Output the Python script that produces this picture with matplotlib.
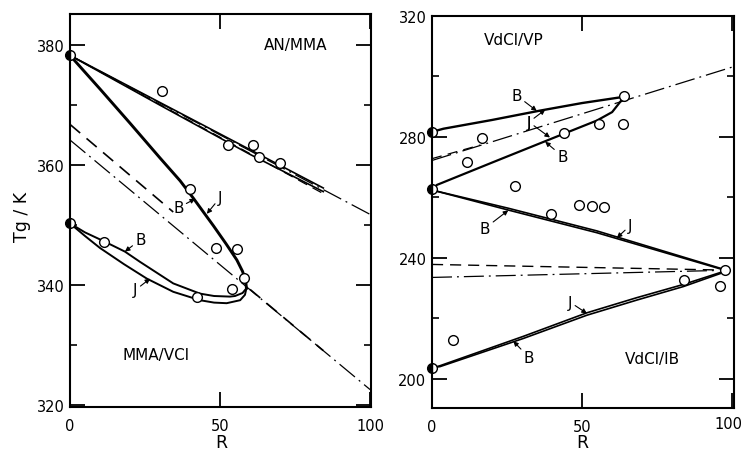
import matplotlib
matplotlib.use("Agg")
import matplotlib.pyplot as plt
import numpy as np

plt.rcParams['font.family'] = ['DejaVu Sans']

# ---------------- Left panel data ----------------
# AN/MMA
anmma_B_R = [0, 84.4]
anmma_B_Tg = [378.3, 356.2]
anmma_J_R = [0, 30, 60, 84.4]
anmma_J_Tg = [378.3, 370.0, 361.8, 355.6]
anmma_dash_R = [0, 85]
anmma_dash_Tg = [378.3, 355.1]
anmma_dd_R = [0, 100]
anmma_dd_Tg = [378.3, 351.8]
anmma_pts_R = [30.8, 52.8, 60.9, 63.1, 70.0]
anmma_pts_Tg = [372.3, 363.3, 363.3, 361.3, 360.3]

# MMA/VCl
mmavcl_steep_R = [0, 10, 20, 30, 36.7, 41.1, 47.8, 52, 55.6, 57.5, 58.5, 58.8]
mmavcl_steep_Tg = [378.3, 372.7, 367.0, 361.2, 357.4, 354.5, 349.9, 346.9, 344.2, 342.3, 340.8, 339.5]
mmavcl_B_R = [58.8, 57.5, 55, 53.3, 48, 43.3, 34.4, 23.3, 18.3, 11.4, 5, 0]
mmavcl_B_Tg = [339.5, 338.7, 338.2, 338.1, 338.2, 338.6, 340.3, 343.9, 345.6, 347.3, 348.8, 350.3]
mmavcl_J_R = [58.8, 58.3, 56.7, 52.2, 48, 43.3, 34.4, 25.6, 18, 10, 5, 0]
mmavcl_J_Tg = [339.5, 338.4, 337.5, 337.0, 337.1, 337.5, 338.9, 341.1, 343.5, 346.2, 348.2, 350.3]
mmavcl_dash_R = [0, 34.4, np.nan, 60, 84.4]
mmavcl_dash_Tg = [366.8, 352.2, np.nan, 339.3, 329.1]
mmavcl_dd_R = [0, 100]
mmavcl_dd_Tg = [364.2, 322.6]
mmavcl_pts_R = [11.4, 40.0, 48.7, 55.6, 58.1, 54.1, 42.4]
mmavcl_pts_Tg = [347.2, 356.1, 346.2, 346.1, 341.2, 339.3, 338.1]

left_half_R = [0, 0]
left_half_Tg = [378.3, 350.3]

# ---------------- Right panel data ----------------
# VdCl/VP
vp_Bup_R = [0.5, 3.8, 20, 36, 50, 63.5]
vp_Bup_Tg = [281.8, 282.7, 285.6, 288.7, 291.2, 293.2]
vp_Blow_R = [0.5, 1.6, 20, 43.8, 54.9, 60, 63.5]
vp_Blow_Tg = [262.8, 264.1, 271.5, 281.0, 285.4, 288.2, 292.6]
vp_dd_R = [0, 100]
vp_dd_Tg = [272.2, 303.1]
vp_dash_R = [0, 16]
vp_dash_Tg = [272.8, 277.3]
vp_pts_R = [11.7, 16.7, 44.1, 55.6, 63.6, 64.1]
vp_pts_Tg = [271.7, 279.7, 281.4, 284.4, 284.4, 293.5]

# VdCl/IB
ib_up_R = [0.5, 25.4, 54.9, 97.5]
ib_up_B_Tg = [262.3, 255.8, 248.3, 235.9]
ib_up_J_Tg = [262.3, 256.4, 248.9, 236.1]
ib_low_R = [1, 2.7, 30.4, 51.6, 68.2, 83.8, 97.5]
ib_low_B_Tg = [203.8, 204.0, 213.3, 221.0, 226.0, 230.5, 235.3]
ib_low_J_Tg = [203.8, 204.3, 214.0, 221.8, 226.8, 231.2, 235.6]
ib_dash_R = [0, 94]
ib_dash_Tg = [237.8, 236.0]
ib_dd_R = [0, 95]
ib_dd_Tg = [233.5, 235.8]
ib_pts_R = [27.6, 39.7, 48.9, 53.3, 57.2, 7.0, 83.9, 96.1, 97.6]
ib_pts_Tg = [263.6, 254.5, 257.5, 257.1, 256.8, 212.7, 232.6, 230.7, 235.9]

right_half_R = [0, 0, 0]
right_half_Tg = [281.6, 262.6, 203.6]

x_ticks = [0, 50, 100]
x_ticklabels = ['0', '50', '100']

# ---------------- Figure ----------------
fig = plt.figure(figsize=(7.44, 4.56), dpi=100)
axL = fig.add_axes([70/744, 48/456, 301/744, 393/456])
axR = fig.add_axes([432/744, 47/456, 301.7/744, 392/456])

DD = (0, (16, 4, 1.5, 4))
DS = (0, (8, 5))
thick = 2.1
thin = 0.9
dbl = 1.2
fs_tick = 10.5
fs_lab = 11


def style_axes(ax, xlim, ylim, ymaj, ymin, xlabels):
    ax.set_xlim(*xlim)
    ax.set_ylim(*ylim)
    ax.set_xticks(x_ticks)
    ax.set_xticklabels(xlabels)
    ax.set_yticks(ymaj)
    ax.set_yticks(ymin, minor=True)
    ax.tick_params(which='major', direction='in', length=10.5, width=1.3,
                   top=True, right=True, labelsize=fs_tick, pad=4)
    ax.tick_params(axis='x', which='major', pad=8)
    ax.tick_params(which='minor', direction='in', length=5, width=1.2,
                   top=True, right=True)
    for s in ax.spines.values():
        s.set_linewidth(1.5)


def arrow_label(ax, text, xy, xytext):
    ax.annotate(text, xy=xy, xytext=xytext, ha='center', va='center',
                fontsize=fs_lab,
                arrowprops=dict(arrowstyle='-|>', color='k', lw=0.8,
                                mutation_scale=7, shrinkA=0, shrinkB=0))


mk = dict(marker='o', ms=7, mfc='white', mec='k', mew=1.0, ls='none', zorder=5)
hmk = dict(marker='o', ms=7, mfc='k', mfcalt='white', fillstyle='left', mec='k',
           mew=1.0, ls='none', zorder=6, clip_on=False)

# ---- Left ----
ax = axL
ax.plot(anmma_dd_R, anmma_dd_Tg, color='k', lw=thin, ls=DD)
ax.plot(anmma_dash_R, anmma_dash_Tg, color='k', lw=thin, ls=DS)
ax.plot(anmma_B_R, anmma_B_Tg, color='k', lw=dbl)
ax.plot(anmma_J_R, anmma_J_Tg, color='k', lw=dbl)
ax.plot(mmavcl_dd_R, mmavcl_dd_Tg, color='k', lw=thin, ls=DD)
ax.plot(mmavcl_dash_R, mmavcl_dash_Tg, color='k', lw=1.2, ls=DS)
ax.plot(mmavcl_steep_R, mmavcl_steep_Tg, color='k', lw=thick)
ax.plot(mmavcl_B_R, mmavcl_B_Tg, color='k', lw=1.4)
ax.plot(mmavcl_J_R, mmavcl_J_Tg, color='k', lw=1.4)
ax.plot(anmma_pts_R, anmma_pts_Tg, **mk)
ax.plot(mmavcl_pts_R, mmavcl_pts_Tg, **mk)
ax.plot(left_half_R, left_half_Tg, **hmk)
style_axes(ax, (0, 100.3), (319.7, 385.2), [320, 340, 360, 380], [330, 350, 370],
           x_ticklabels)
ax.text(75.3, 380.1, 'AN/MMA', ha='center', va='center', fontsize=fs_lab)
ax.text(28.7, 328.4, 'MMA/VCl', ha='center', va='center', fontsize=fs_lab)
arrow_label(ax, 'B', (41.7, 354.4), (36.1, 352.9))
arrow_label(ax, 'J', (45.6, 351.9), (50.0, 354.6))
arrow_label(ax, 'B', (18.3, 345.6), (23.5, 347.6))
arrow_label(ax, 'J', (26.7, 341.1), (21.8, 339.2))

# ---- Right ----
ax = axR
ax.plot(vp_dd_R, vp_dd_Tg, color='k', lw=thin, ls=DD)
ax.plot(vp_dash_R, vp_dash_Tg, color='k', lw=thin, ls=DS)
ax.plot(vp_Bup_R, vp_Bup_Tg, color='k', lw=1.7)
ax.plot(vp_Blow_R, vp_Blow_Tg, color='k', lw=1.6)
ax.plot(ib_dash_R, ib_dash_Tg, color='k', lw=1.0, ls=DS)
ax.plot(ib_dd_R, ib_dd_Tg, color='k', lw=thin, ls=DD)
ax.plot(ib_up_R, ib_up_B_Tg, color='k', lw=dbl)
ax.plot(ib_up_R, ib_up_J_Tg, color='k', lw=dbl)
ax.plot(ib_low_R, ib_low_B_Tg, color='k', lw=dbl)
ax.plot(ib_low_R, ib_low_J_Tg, color='k', lw=dbl)
ax.plot(vp_pts_R, vp_pts_Tg, **mk)
ax.plot(ib_pts_R, ib_pts_Tg, **mk)
ax.plot(right_half_R, right_half_Tg, **hmk)
style_axes(ax, (0, 100.5), (190.3, 320), [200, 240, 280, 320], [220, 260, 300],
           x_ticklabels[:2] + [''])
# last tick label placed slightly inward so it stays inside the picture
ax.text(728.5/744, 1 - 425/456, x_ticklabels[2], transform=fig.transFigure,
        ha='center', va='center', fontsize=fs_tick)
ax.text(27.2, 312.3, 'VdCl/VP', ha='center', va='center', fontsize=fs_lab)
ax.text(73.5, 206.8, 'VdCl/IB', ha='center', va='center', fontsize=fs_lab)
arrow_label(ax, 'B', (34.9, 288.6), (28.2, 293.7))
arrow_label(ax, 'J', (37.7, 289.0), (32.3, 284.9))
arrow_label(ax, 'J', (39.3, 279.8), (32.3, 284.9))
arrow_label(ax, 'B', (37.7, 278.4), (43.4, 273.6))
arrow_label(ax, 'B', (25.4, 255.7), (17.7, 249.8))
arrow_label(ax, 'J', (61.6, 246.6), (66.0, 250.7))
arrow_label(ax, 'J', (51.6, 221.6), (46.0, 225.3))
arrow_label(ax, 'B', (27.1, 212.4), (32.3, 207.0))

# axis titles
fig.text(221/744, 1 - 443/456, 'R', ha='center', va='center', fontsize=12.5)
fig.text(582/744, 1 - 443/456, 'R', ha='center', va='center', fontsize=12.5)
fig.text(22/744, 1 - 217/456, 'Tg / K', ha='center', va='center', rotation=90,
         fontsize=12.5)

fig.savefig('out.png', dpi=100)
